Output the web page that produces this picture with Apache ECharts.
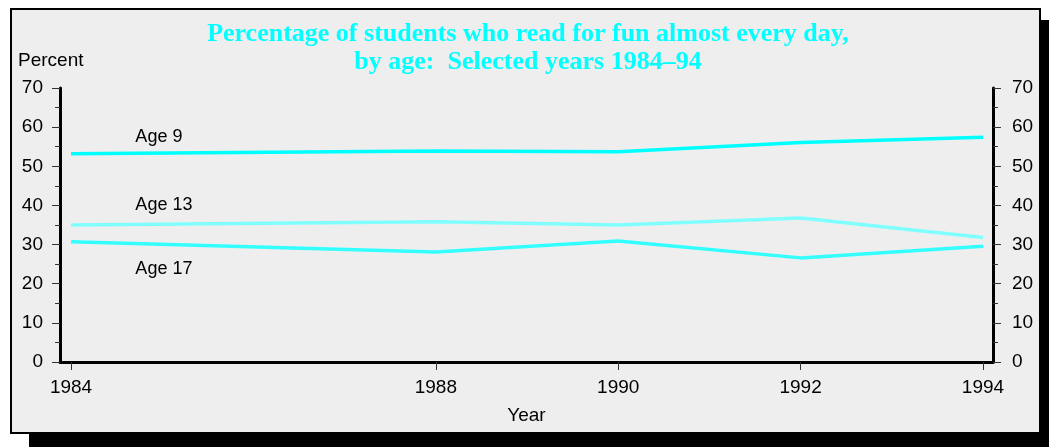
<!DOCTYPE html>
<html>
<head>
<meta charset="utf-8">
<script src="https://cdn.jsdelivr.net/npm/echarts@6/dist/echarts.min.js"></script>
<style>
html,body{margin:0;padding:0;background:#ffffff;}
#chart{width:1049px;height:447px;}
</style>
</head>
<body>
<div id="chart"></div>
<script>
const years = [1984, 1988, 1990, 1992, 1994];
const age9 = [53.2, 53.9, 53.7, 56.1, 57.4];
const age13 = [35.0, 35.8, 35.0, 36.8, 31.8];
const age17 = [30.7, 28.1, 30.9, 26.6, 29.6];
const seriesNames = ['Age 9', 'Age 13', 'Age 17'];
const labelAnchors = [[1984.7, 57.5], [1984.7, 40.0], [1984.7, 23.8]];
const yTicks = [0, 10, 20, 30, 40, 50, 60, 70];

const chart = echarts.init(document.getElementById('chart'));
const font = '"Liberation Sans", Arial, sans-serif';
function pairs(vals){ return years.map((y,i)=>[y, vals[i]]); }
const colors = ['#00ffff', '#80ffff', '#33ffff'];
const datasets = [age9, age13, age17];

function yAxisCfg(pos){
  return {
    type: 'value', position: pos, min: 0, max: 70, interval: 10,
    axisLine: {show: true, onZero: false, lineStyle: {color: '#000', width: 3}},
    axisTick: {show: true, length: 8, lineStyle: {color: '#333', width: 1}},
    minorTick: {show: true, splitNumber: 2, length: 5, lineStyle: {color: '#333', width: 1}},
    splitLine: {show: false},
    axisLabel: {fontFamily: font, fontSize: 19, color: '#000', margin: pos === 'left' ? 17 : 19}
  };
}

chart.setOption({
  animation: false,
  backgroundColor: '#ffffff',
  graphic: [
    {type: 'rect', shape: {x: 29, y: 20, width: 1020, height: 427}, style: {fill: '#000'}, z: -10},
    {type: 'rect', shape: {x: 11, y: 9, width: 1029, height: 424}, style: {fill: '#eeeeee', stroke: '#000', lineWidth: 2}, z: -9},
    {type: 'text', left: 18, top: 51, style: {text: 'Percent', font: '19px "Liberation Sans", Arial, sans-serif', fill: '#000'}}
  ],
  title: {
    text: 'Percentage of students who read for fun almost every day,\nby age:  Selected years 1984–94',
    left: 523, top: 15, textAlign: 'center',
    textStyle: {fontFamily: '"Liberation Serif", "Times New Roman", serif', fontWeight: 'bold', fontSize: 26, lineHeight: 28, color: '#00ffff'}
  },
  grid: {left: 60, right: 56, top: 88, bottom: 85, containLabel: false},
  xAxis: {
    type: 'value', min: 1983.879, max: 1994.110,
    name: 'Year', nameLocation: 'middle', nameGap: 44,
    nameTextStyle: {fontFamily: font, fontSize: 19, color: '#000'},
    axisLine: {show: true, onZero: false, lineStyle: {color: '#000', width: 3}},
    axisTick: {show: true, length: 8, customValues: years, lineStyle: {color: '#333', width: 1}},
    axisLabel: {customValues: years, formatter: v => String(v), fontFamily: font, fontSize: 19, color: '#000', margin: 16},
    splitLine: {show: false}
  },
  yAxis: [yAxisCfg('left'), yAxisCfg('right')],
  series: datasets.map((d, i) => ({
    name: seriesNames[i], type: 'line', data: pairs(d), yAxisIndex: 0,
    showSymbol: false, symbol: 'none',
    lineStyle: {color: colors[i], width: 3.5},
    markPoint: {
      symbol: 'circle', symbolSize: 1, itemStyle: {color: 'rgba(0,0,0,0)'},
      label: {show: true, position: 'right', distance: 0, formatter: seriesNames[i], fontFamily: font, fontSize: 18, color: '#000'},
      data: [{coord: labelAnchors[i]}]
    }
  }))
});
</script>
</body>
</html>
